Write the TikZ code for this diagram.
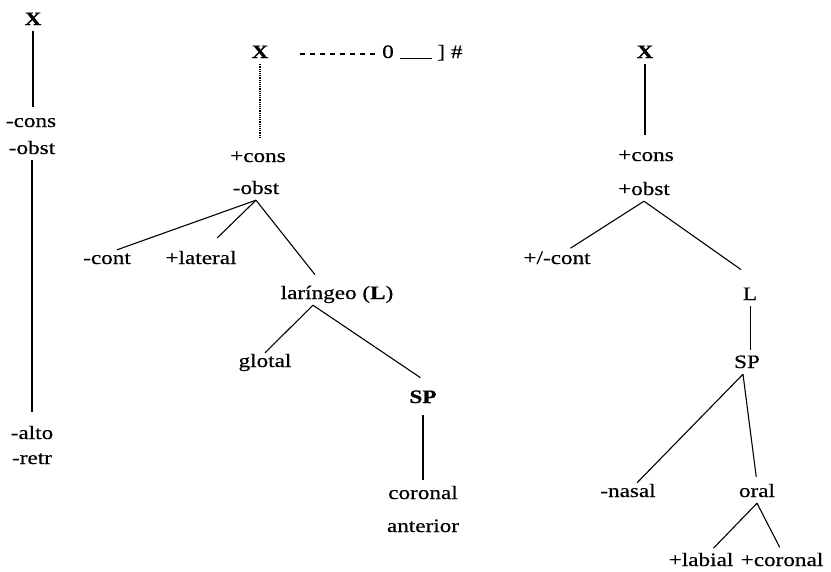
\documentclass[tikz,border=0pt]{standalone}
\usepackage{fontspec}
\setmainfont{Liberation Serif}[FakeStretch=1.22,FakeBold=0.5]
\usepackage{tikz}

\begin{document}
\begin{tikzpicture}[x=1pt,y=-1pt,
    feat/.style={inner sep=2pt,text height=12pt,text depth=4pt,font=\fontsize{19}{21}\selectfont},
    br/.style={line width=1.1pt},
    trunk/.style={line width=2pt},
    faint/.style={line width=0.8pt}]
  \useasboundingbox (0,0) rectangle (831,571);

  % left column
  \node[feat] (xl) at (33,21) {\textbf{X}};
  \node[feat] (consl) at (31,123) {-cons};
  \node[feat] (obstl) at (32,150) {-obst};
  \node[feat] (altol) at (32,435) {-alto};
  \node[feat] (retrl) at (32,460) {-retr};
  \draw[trunk,shorten >=6pt] (xl.south) -- (xl.south |- consl.north);
  \draw[trunk,shorten >=13pt] (obstl.south) -- (obstl.south |- altol.north);

  % middle tree
  \node[feat] (xm) at (260,54) {\textbf{X}};
  \node[feat,anchor=west,inner sep=0pt] (env) at (382,54) {0 \rule[-1pt]{32pt}{1pt} ] \#};
  \node[feat] (consm) at (258,158) {+cons};
  \node[feat] (obstm) at (256,190) {-obst};
  \node[feat] (contm) at (107,260) {-cont};
  \node[feat] (latm) at (201,260) {+lateral};
  \node[feat] (larm) at (337,295) {laríngeo (\textbf{L})};
  \node[feat] (glom) at (265,363) {glotal};
  \node[feat] (spm) at (423,399) {\textbf{SP}};
  \node[feat] (corm) at (423,495) {coronal};
  \node[feat] (antm) at (423,528) {anterior};

  \draw[br,dash pattern=on 5pt off 5pt,shorten >=5pt] ([xshift=29pt]xm.east) -- (env.west);
  \draw[line width=1.2pt,densely dotted,shorten >=10pt] (xm.south) -- (xm.south |- consm.north);
  \draw[br] (obstm.south) -- ([xshift=10pt]contm.north);
  \draw[br,shorten >=17pt] (obstm.south) -- ([xshift=4pt]latm.north);
  \draw[br,shorten >=13pt] (obstm.south) -- ([xshift=-14pt]larm.north);
  \draw[br] ([xshift=-24pt]larm.south) -- (glom.north);
  \draw[br,shorten >=20pt] ([xshift=-24pt]larm.south) -- ([xshift=14pt]spm.north);
  \draw[trunk,shorten <=6pt,shorten >=5pt] (spm.south) -- (corm.north);

  % right tree
  \node[feat] (xr) at (645,54) {\textbf{X}};
  \node[feat] (consr) at (646,157) {+cons};
  \node[feat] (obstr) at (644,191) {+obst};
  \node[feat] (contr) at (557,260) {+/-cont};
  \node[feat] (lr) at (750,296) {L};
  \node[feat] (spr) at (747,364) {SP};
  \node[feat] (nasr) at (628,493) {-nasal};
  \node[feat] (oralr) at (757,493) {oral};
  \node[feat] (labr) at (701,562) {+labial};
  \node[feat] (corr) at (782,562) {+coronal};

  \draw[line width=1.5pt,shorten >=12pt] (xr.south) -- (xr.south |- consr.north);
  \draw[br,shorten >=3pt] (obstr.south) -- ([xshift=11pt]contr.north);
  \draw[br,shorten >=28pt] (obstr.south) -- ([xshift=14pt]lr.north);
  \draw[faint,shorten >=4pt] (lr.south) -- (lr.south |- spr.north);
  \draw[br] ([xshift=-4pt]spr.south) -- ([xshift=9pt]nasr.north);
  \draw[br,shorten >=6pt] ([xshift=-4pt]spr.south) -- (oralr.north);
  \draw[br,shorten >=5pt] (oralr.south) -- ([xshift=9pt]labr.north);
  \draw[br,shorten >=5pt] (oralr.south) -- (corr.north);
\end{tikzpicture}
\end{document}
